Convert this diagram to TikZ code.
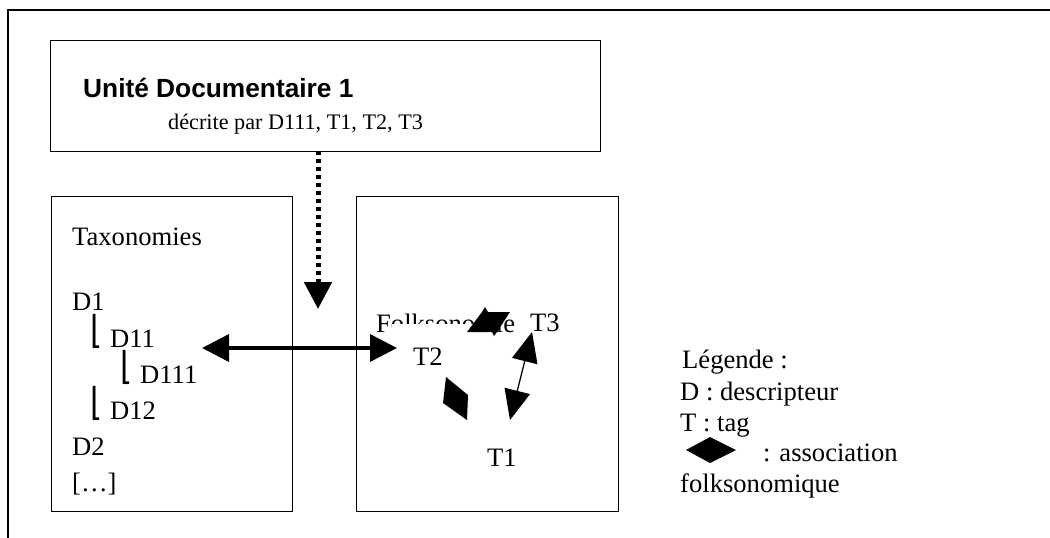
\documentclass[tikz,border=0pt]{standalone}
\usepackage{fontspec}
\usepackage{graphicx}
\setmainfont{Liberation Serif}
\newfontfamily\arialfont{Liberation Sans}
\newfontfamily\dejavusans{DejaVu Sans}
\usetikzlibrary{arrows.meta}
\newcommand{\floorbar}{\makebox[20pt][l]{\dejavusans\fontsize{24}{28}\selectfont\raisebox{4pt}{\scalebox{1.3}[1.6]{⌊}}}}
\begin{document}
\begin{tikzpicture}[x=1pt,y=-1pt,
  frame/.style={line width=2pt},
  box/.style={draw, line width=1.4pt, inner sep=0pt, anchor=north west},
  txt/.style={anchor=base west, inner sep=0pt, font=\fontsize{26.6}{30}\selectfont},
  subtxt/.style={anchor=base west, inner sep=0pt, font=\fontsize{22.2}{26}\selectfont},
  titletxt/.style={anchor=base west, inner sep=0pt, font=\arialfont\bfseries\fontsize{26.3}{30}\selectfont},
  assoc/.style={fill=black}
]
\useasboundingbox (0,0) rectangle (1050,538);
% outer frame (open at bottom and right)
\draw[frame] (8,538) -- (8,10) -- (1050,10);

% boxes
\node[box, minimum width=550pt, minimum height=111pt] (ud) at (50,40) {};
\node[box, minimum width=241pt, minimum height=315pt] (tax) at (51,196) {};
\node[box, minimum width=262pt, minimum height=315pt] (folk) at (356,196) {};

% top box text
\node[titletxt] (udtitle) at (83,97) {Unité Documentaire 1};
\node[subtxt] (udsub) at (168,129) {décrite par D111, T1, T2, T3};

% taxonomies
\node[txt] (taxtitle) at (72,245) {Taxonomies};
\node[txt] (d1) at (72,310) {D1};
\node[txt] (d11) at (90,347) {\floorbar D11};
\node[txt] (d111) at (120,383) {\floorbar D111};
\node[txt] (d12) at (90,419) {\floorbar D12};
\node[txt] (d2) at (72,455) {D2};
\node[txt] (etc) at (72,491) {[…]};

% folksonomie
\node[txt] (folktitle) at (376,332) {Folksonomie};
\fill[white] (392,324) rectangle (482,345);
\node[txt] (t2) at (413,365) {T2};
\node[txt] (t3) at (530,331) {T3};
\node[txt] (t1) at (487,466) {T1};

% association marks
\fill[assoc] (467,332) -- (482,312) -- (485,307) -- (488,312) -- (510,312) -- (497,332) -- (494,336) -- (492,332) -- cycle;
\fill[assoc] (446,377) -- (468,395) -- (467,420) -- (443,403) -- cycle;

% connectors
\coordinate (dotS) at (318,151);
\coordinate (dotE) at (318,309);
\draw[line width=5pt, dash pattern=on 4pt off 4pt, -{Triangle[length=27pt,width=27pt]}] (dotS) -- (dotE);

\coordinate (dL) at (202,348);
\coordinate (dR) at (397,348);
\draw[line width=3.5pt, {Triangle[length=27pt,width=27pt]}-{Triangle[length=27pt,width=27pt]}] (dL) -- (dR);

\coordinate (t3a) at (532,332);
\coordinate (t1a) at (510,420);
\draw[line width=1.3pt, {Triangle[length=30pt,width=26pt]}-{Triangle[length=30pt,width=26pt]}] (t3a) -- (t1a);

% legend
\node[txt] (lg1) at (682,368) {Légende :};
\node[txt] (lg2) at (680,400) {D : descripteur};
\node[txt] (lg3) at (680,431) {T : tag};
\fill[assoc] (686,450) -- (710,437) -- (736,450) -- (710,463) -- cycle;
\node[txt] (lg4) at (763,461) {: association};
\node[txt] (lg5) at (680,492) {folksonomique};
\end{tikzpicture}
\end{document}
